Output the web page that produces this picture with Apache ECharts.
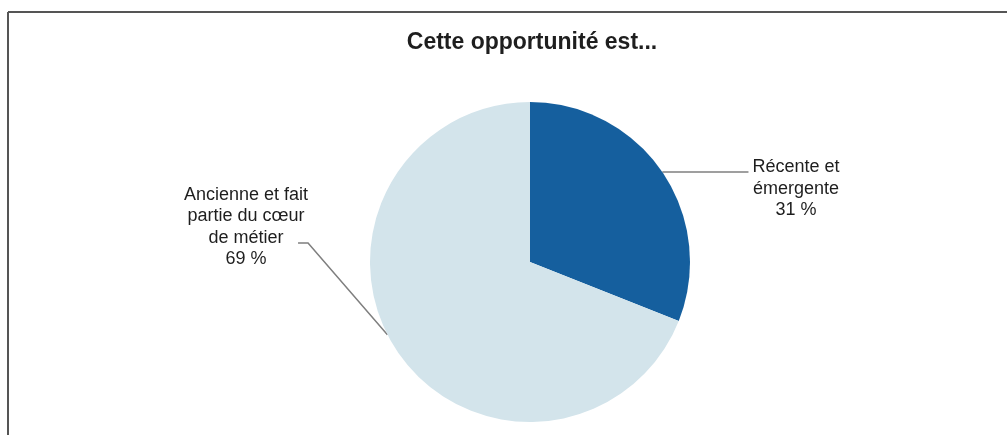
<!DOCTYPE html>
<html><head><meta charset="utf-8">
<script src="https://cdn.jsdelivr.net/npm/echarts@6/dist/echarts.min.js"></script>
<style>html,body{margin:0;padding:0;background:#fff}#c{width:1007px;height:435px}</style>
</head><body><div id="c"></div>
<script>
const title = 'Cette opportunité est...';
const categories = ['Récente et\némergente', 'Ancienne et fait\npartie du cœur\nde métier'];
const values = [31, 69];
const colors = ['#155f9e', '#d3e4eb'];

const PIE_C = [530, 262];
const PIE_R = 160;
const labelPos = [{x: 796, y: 189}, {x: 246, y: 227}];
const leaderAngles = [55.8, 243];

function edgePoint(deg) {
  const a = deg * Math.PI / 180;
  return [PIE_C[0] + PIE_R * Math.sin(a), PIE_C[1] - PIE_R * Math.cos(a)];
}

const chart = echarts.init(document.getElementById('c'), null, {renderer: 'canvas'});
chart.setOption({
  animation: false,
  backgroundColor: '#fff',
  title: {
    text: title, left: 527, top: 26, textAlign: 'center',
    textStyle: {fontFamily: 'Liberation Sans, Arial, sans-serif', fontSize: 23, fontWeight: 'bold', color: '#1e1e1e'}
  },
  graphic: [
    {type: 'line', shape: {x1: 8, y1: 12, x2: 1007, y2: 12}, style: {stroke: '#555', lineWidth: 2}},
    {type: 'line', shape: {x1: 8, y1: 12, x2: 8, y2: 435}, style: {stroke: '#555', lineWidth: 2}}
  ],
  series: [{
    type: 'pie',
    center: PIE_C,
    radius: [0, PIE_R],
    startAngle: 90,
    clockwise: true,
    data: categories.map((n, i) => ({name: n, value: values[i], itemStyle: {color: colors[i]}})),
    label: {
      show: true,
      formatter: p => p.name + '\n' + p.value + ' %',
      fontFamily: 'Liberation Sans, Arial, sans-serif',
      fontSize: 18, lineHeight: 21.5, color: '#1e1e1e', align: 'center'
    },
    labelLine: {show: true, lineStyle: {color: '#7f7f7f', width: 1.5}, length: 10, length2: 10},
    labelLayout: p => {
      const i = p.dataIndex;
      const pos = labelPos[i];
      const w = p.labelRect.width;
      const anchor = edgePoint(leaderAngles[i]);
      let pts;
      if (i === 0) {
        pts = [anchor, [pos.x - w / 2 - 4, anchor[1]]];
      } else {
        const right = pos.x + w / 2;
        pts = [[right - 10, pos.y + 16], [right, pos.y + 16], anchor];
      }
      return {x: pos.x, y: pos.y, align: 'center', verticalAlign: 'middle', labelLinePoints: pts};
    }
  }]
});
</script></body></html>
